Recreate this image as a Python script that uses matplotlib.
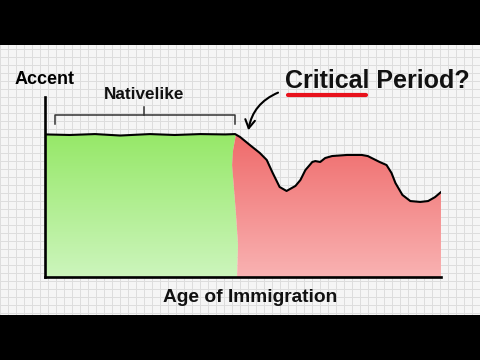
import numpy as np
import matplotlib.pyplot as plt
from matplotlib.patches import Polygon
from matplotlib.colors import LinearSegmentedColormap

plt.rcParams['font.family'] = ['Liberation Sans', 'DejaVu Sans']

# native-like plateau (age in years, accent score)
native_age = [0.1, 2.5, 5.05, 7.6, 10.6, 13.1, 15.7, 18.2, 19.2]
native_accent = [79.2, 78.9, 79.4, 78.6, 79.4, 78.9, 79.4, 79.2, 79.4]

# after the critical period
late_age = [19.2, 19.7, 20.7, 21.7, 22.4, 23.0, 23.7, 24.4, 25.3, 25.8, 26.3,
            27.0, 27.3, 27.8, 28.3, 29.0, 30.5, 32.0, 32.6, 33.8, 34.5, 35.0,
            35.4, 36.1, 36.9, 37.9, 38.7, 39.4, 40.0]
late_accent = [79.4, 77.8, 73.3, 68.9, 65.0, 57.8, 50.0, 47.8, 50.6, 53.9, 59.4,
               63.9, 64.4, 63.9, 66.1, 67.2, 67.8, 67.8, 67.2, 63.9, 62.2, 57.8,
               52.2, 45.6, 42.2, 41.7, 42.2, 44.4, 47.2]

# wavy border between the two colours, from top to bottom
border_age = [19.3, 19.0, 18.9, 19.1, 19.3, 19.5, 19.4]
border_accent = [79.4, 70.6, 62.2, 48.3, 34.4, 17.8, 0.0]

fig = plt.figure(figsize=(4.8, 3.6), dpi=100, facecolor='black')

# grid paper background
bg = fig.add_axes([0, 0.125, 1, 0.75])
bg.set_xlim(0, 480)
bg.set_ylim(0, 270)
bg.set_facecolor('#f5f5f5')
bg.set_xticks(np.arange(0, 481, 8))
bg.set_yticks(np.arange(2, 271, 8))
bg.grid(True, color='#dddddd', lw=0.7)
bg.tick_params(length=0, labelbottom=False, labelleft=False)
for s in bg.spines.values():
    s.set_visible(False)

ax = fig.add_axes([45 / 480, 83 / 360, 396 / 480, 0.5])
ax.set_xlim(0, 40)
ax.set_ylim(0, 100)
ax.patch.set_visible(False)
ax.set_xticks([])
ax.set_yticks([])
for side in ['top', 'right']:
    ax.spines[side].set_visible(False)
for side in ['left', 'bottom']:
    ax.spines[side].set_linewidth(1.9)
    ax.spines[side].set_color('black')

green_pts = ([(0, 0)] + list(zip(native_age, native_accent))
             + list(zip(border_age, border_accent)))
red_pts = (list(zip(border_age[::-1], border_accent[::-1]))
           + list(zip(late_age, late_accent)) + [(40, 0)])

grad = np.linspace(1, 0, 200).reshape(-1, 1)
green_cmap = LinearSegmentedColormap.from_list('g', ['#ccf5bc', '#96e868'])
red_cmap = LinearSegmentedColormap.from_list('r', ['#f9b2b2', '#ef6a6a'])

for pts, cmap in [(green_pts, green_cmap), (red_pts, red_cmap)]:
    poly = Polygon(pts, closed=True, facecolor='none', edgecolor='none')
    ax.add_patch(poly)
    im = ax.imshow(grad, cmap=cmap, vmin=0, vmax=1, extent=[0, 40, 0, 80],
                   aspect='auto', zorder=1)
    im.set_clip_path(poly)

ax.plot(native_age + late_age, native_accent + late_accent, color='black',
        lw=1.5, zorder=3, solid_capstyle='round')

# bracket over the native-like range
ax.plot([1.0, 1.0, 19.2, 19.2], [85, 90, 90, 85], color='#333333', lw=1.1,
        clip_on=False)
ax.plot([10.0, 10.0], [90, 94.5], color='#333333', lw=1.1, clip_on=False)

ax.annotate('', xy=(20.5, 80), xytext=(23.8, 103), annotation_clip=False,
            arrowprops=dict(arrowstyle='->,head_length=0.6,head_width=0.35',
                            color='black', lw=1.5,
                            connectionstyle='arc3,rad=0.3'))

fig.text(15 / 480, 1 - 84 / 360, 'Accent', fontsize=13, fontweight='bold',
         ha='left', va='baseline')
fig.text(144 / 480, 1 - 99 / 360, 'Nativelike', fontsize=12.3,
         fontweight='bold', ha='center', va='baseline', color='#111111')
fig.text(285 / 480, 1 - 88 / 360, 'Critical Period?', fontsize=18,
         fontweight='bold', ha='left', va='baseline', color='#111111')
fig.text(250 / 480, 1 - 302 / 360, 'Age of Immigration', fontsize=13.8,
         fontweight='bold', ha='center', va='baseline', color='#111111')
fig.add_artist(plt.Line2D([288 / 480, 366 / 480], [1 - 95 / 360, 1 - 95 / 360],
                          color='#e8121c', lw=3, solid_capstyle='round'))

fig.savefig('out.png', dpi=100, facecolor='black')
